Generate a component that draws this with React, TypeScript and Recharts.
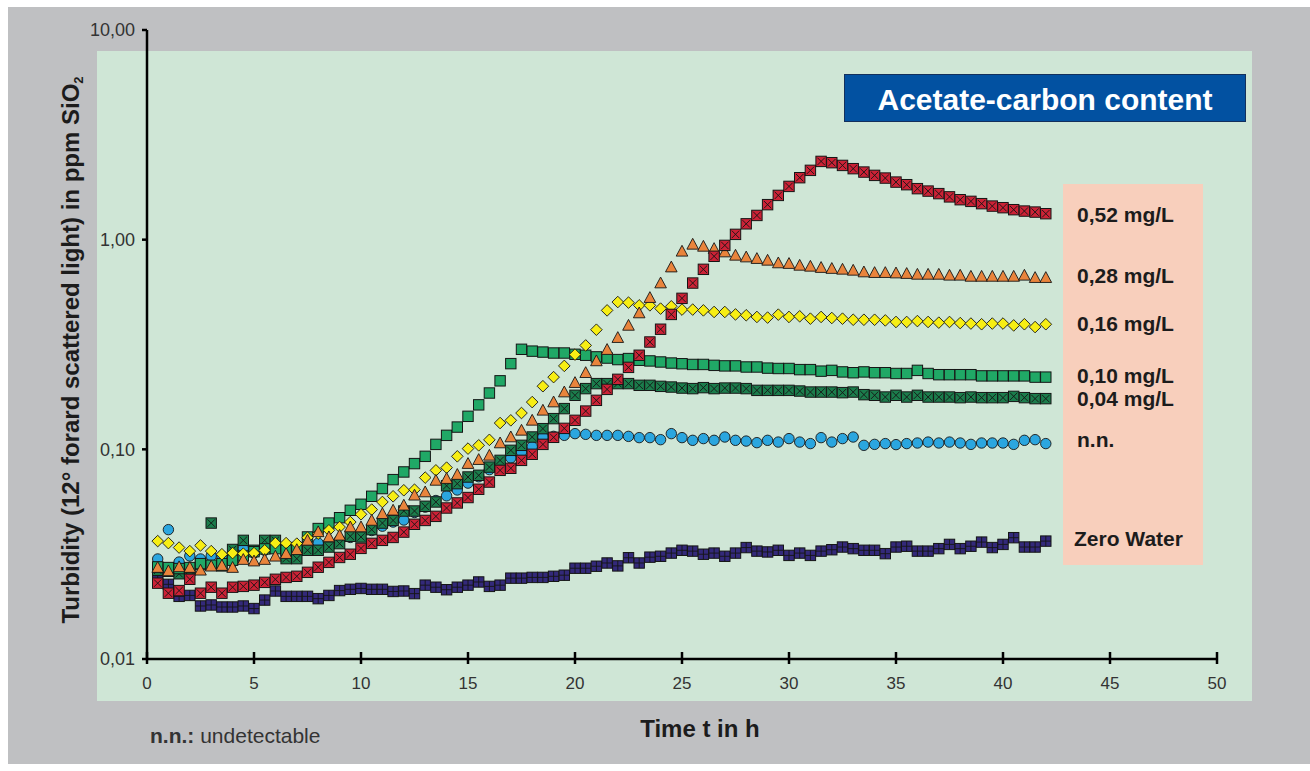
import React from 'react';
import { ScatterChart, Scatter, XAxis, YAxis } from 'recharts';

const FONT = '"Liberation Sans", Arial, Helvetica, sans-serif';

const timeH = [
  0.5, 1, 1.5, 2, 2.5, 3, 3.5, 4, 4.5, 5,
  5.5, 6, 6.5, 7, 7.5, 8, 8.5, 9, 9.5, 10,
  10.5, 11, 11.5, 12, 12.5, 13, 13.5, 14, 14.5, 15,
  15.5, 16, 16.5, 17, 17.5, 18, 18.5, 19, 19.5, 20,
  20.5, 21, 21.5, 22, 22.5, 23, 23.5, 24, 24.5, 25,
  25.5, 26, 26.5, 27, 27.5, 28, 28.5, 29, 29.5, 30,
  30.5, 31, 31.5, 32, 32.5, 33, 33.5, 34, 34.5, 35,
  35.5, 36, 36.5, 37, 37.5, 38, 38.5, 39, 39.5, 40,
  40.5, 41, 41.5, 42,
];

const c052 = [
  0.023, 0.0206, 0.0212, 0.024, 0.0206, 0.022, 0.0206, 0.022, 0.0222, 0.0225,
  0.0232, 0.024, 0.0245, 0.0248, 0.0259, 0.0274, 0.0289, 0.0305, 0.0316, 0.0337,
  0.0356, 0.0368, 0.038, 0.0403, 0.0439, 0.0458, 0.0479, 0.0525, 0.0555, 0.0589,
  0.0645, 0.0698, 0.0794, 0.0812, 0.0886, 0.0947, 0.1056, 0.1141, 0.1259, 0.1375,
  0.1522, 0.1713, 0.1932, 0.2157, 0.246, 0.281, 0.325, 0.374, 0.44, 0.525,
  0.621, 0.722, 0.833, 0.939, 1.06, 1.19, 1.305, 1.469, 1.626, 1.795,
  1.975, 2.141, 2.362, 2.329, 2.26, 2.181, 2.101, 2.026, 1.967, 1.882,
  1.829, 1.751, 1.705, 1.658, 1.6, 1.551, 1.523, 1.485, 1.446, 1.421,
  1.39, 1.369, 1.354, 1.33,
];

const c028 = [
  0.0273, 0.0263, 0.0275, 0.0273, 0.0265, 0.0277, 0.0279, 0.0273, 0.0298, 0.0293,
  0.0298, 0.0309, 0.0318, 0.0332, 0.0368, 0.0404, 0.0382, 0.0389, 0.0426, 0.0426,
  0.0458, 0.0493, 0.0512, 0.0541, 0.0604, 0.0626, 0.0711, 0.0725, 0.0758, 0.0855,
  0.0893, 0.0936, 0.1072, 0.1145, 0.1232, 0.1375, 0.1535, 0.1681, 0.1876, 0.208,
  0.232, 0.264, 0.299, 0.341, 0.39, 0.447, 0.529, 0.621, 0.74, 0.88,
  0.95, 0.929, 0.906, 0.873, 0.842, 0.826, 0.812, 0.797, 0.774, 0.769,
  0.754, 0.746, 0.736, 0.728, 0.722, 0.714, 0.701, 0.696, 0.696, 0.693,
  0.689, 0.683, 0.683, 0.683, 0.676, 0.676, 0.668, 0.668, 0.668, 0.668,
  0.668, 0.676, 0.659, 0.659,
];

const c016 = [
  0.0365, 0.0357, 0.034, 0.0327, 0.0348, 0.0327, 0.0316, 0.032, 0.0318, 0.032,
  0.033, 0.0357, 0.0357, 0.0355, 0.0379, 0.0396, 0.0411, 0.0426, 0.045, 0.049,
  0.0516, 0.0561, 0.0597, 0.0638, 0.0642, 0.0733, 0.0794, 0.0818, 0.0926, 0.1008,
  0.1045, 0.111, 0.1335, 0.1375, 0.149, 0.168, 0.2, 0.221, 0.25, 0.283,
  0.313, 0.372, 0.46, 0.504, 0.501, 0.486, 0.486, 0.469, 0.481, 0.464,
  0.464, 0.46, 0.452, 0.452, 0.44, 0.436, 0.428, 0.425, 0.439, 0.428,
  0.431, 0.42, 0.428, 0.423, 0.42, 0.415, 0.415, 0.415, 0.412, 0.405,
  0.405, 0.409, 0.405, 0.402, 0.405, 0.4, 0.398, 0.395, 0.398, 0.398,
  0.39, 0.395, 0.383, 0.395,
];

const c010 = [
  0.0275, 0.0273, 0.027, 0.0273, 0.0285, 0.028, 0.0285, 0.0296, 0.031, 0.0325,
  0.0335, 0.0336, 0.033, 0.034, 0.0382, 0.0419, 0.0445, 0.0472, 0.0512, 0.0547,
  0.0597, 0.065, 0.0717, 0.078, 0.0855, 0.0926, 0.1056, 0.1166, 0.1277, 0.1437,
  0.163, 0.1856, 0.2122, 0.2563, 0.3, 0.294, 0.291, 0.288, 0.288, 0.284,
  0.281, 0.276, 0.2725, 0.268, 0.271, 0.266, 0.264, 0.261, 0.258, 0.256,
  0.254, 0.254, 0.2515, 0.25, 0.25, 0.247, 0.247, 0.244, 0.243, 0.243,
  0.24, 0.24, 0.236, 0.238, 0.234, 0.232, 0.234, 0.232, 0.232, 0.23,
  0.23, 0.238, 0.23, 0.227, 0.227, 0.227, 0.227, 0.224, 0.224, 0.224,
  0.224, 0.224, 0.221, 0.221,
];

const c004 = [
  0.0265, 0.0262, 0.0255, 0.0265, 0.0282, 0.0445, 0.0278, 0.0333, 0.0368, 0.033,
  0.0368, 0.0368, 0.0301, 0.0301, 0.033, 0.033, 0.0342, 0.0355, 0.0385, 0.0382,
  0.0414, 0.0445, 0.0458, 0.0508, 0.0508, 0.0535, 0.0561, 0.067, 0.0686, 0.0738,
  0.0752, 0.0823, 0.0886, 0.0989, 0.1045, 0.1145, 0.1255, 0.1401, 0.1564, 0.181,
  0.1948, 0.2058, 0.2058, 0.2058, 0.2058, 0.202, 0.202, 0.1997, 0.1982, 0.196,
  0.1948, 0.1969, 0.1948, 0.196, 0.196, 0.1948, 0.1911, 0.1911, 0.1911, 0.1911,
  0.1897, 0.1876, 0.1876, 0.1876, 0.1864, 0.1876, 0.1823, 0.181, 0.1776, 0.181,
  0.1776, 0.181, 0.1776, 0.1776, 0.1776, 0.1764, 0.1776, 0.1764, 0.1764, 0.1764,
  0.1789, 0.1764, 0.1745, 0.1745,
];

const cNN = [
  0.03, 0.0414, 0.029, 0.031, 0.03, 0.031, 0.031, 0.029, 0.0336, 0.032,
  0.033, 0.034, 0.033, 0.033, 0.034, 0.0357, 0.036, 0.037, 0.038, 0.04,
  0.041, 0.043, 0.045, 0.046, 0.05, 0.053, 0.057, 0.06, 0.064, 0.069,
  0.074, 0.08, 0.085, 0.091, 0.097, 0.103, 0.1145, 0.1153, 0.1166, 0.1188,
  0.1179, 0.1166, 0.1166, 0.1166, 0.1153, 0.1137, 0.1137, 0.1112, 0.1188, 0.1137,
  0.1104, 0.1125, 0.1104, 0.1145, 0.1104, 0.1095, 0.1076, 0.1104, 0.1083, 0.1125,
  0.1083, 0.1065, 0.1137, 0.1083, 0.1125, 0.1145, 0.1045, 0.1056, 0.1065, 0.1053,
  0.1065, 0.1072, 0.1083, 0.1072, 0.1083, 0.1072, 0.1056, 0.1072, 0.1072, 0.1072,
  0.1056, 0.1104, 0.1112, 0.1065,
];

const cZero = [
  0.0236, 0.0227, 0.0199, 0.0201, 0.0179, 0.0181, 0.0177, 0.0177, 0.0179, 0.0174,
  0.0191, 0.0211, 0.0199, 0.0199, 0.0199, 0.0194, 0.0201, 0.0212, 0.0215, 0.0217,
  0.0215, 0.0215, 0.021, 0.0211, 0.0205, 0.0225, 0.022, 0.0214, 0.022, 0.0225,
  0.0233, 0.0222, 0.0225, 0.0243, 0.0243, 0.0245, 0.0245, 0.0248, 0.0251, 0.0271,
  0.0271, 0.0277, 0.0287, 0.0278, 0.0304, 0.0287, 0.0306, 0.0309, 0.032, 0.033,
  0.0327, 0.0316, 0.032, 0.0309, 0.032, 0.034, 0.0327, 0.0324, 0.033, 0.0312,
  0.032, 0.0312, 0.0327, 0.0332, 0.0342, 0.0336, 0.033, 0.033, 0.0318, 0.0342,
  0.0345, 0.0327, 0.0327, 0.0336, 0.0352, 0.0336, 0.0345, 0.0361, 0.034, 0.0352,
  0.0379, 0.0342, 0.0342, 0.0365,
];

const xTicks = [0, 5, 10, 15, 20, 25, 30, 35, 40, 45, 50];
const yTicks = [0.01, 0.1, 1, 10];

const seriesLabels = ['0,52 mg/L', '0,28 mg/L', '0,16 mg/L', '0,10 mg/L', '0,04 mg/L', 'n.n.', 'Zero Water'];

const toPoints = (vals: number[]) => timeH.map((t, i) => ({ x: t, y: vals[i] }));

const STROKE = '#151515';

const CrossSquare = (fill: string) => (p: any) => {
  const { cx, cy } = p;
  if (cx == null || cy == null) return <g />;
  const h = 5.2;
  const k = 3.7;
  return (
    <g>
      <rect x={cx - h} y={cy - h} width={2 * h} height={2 * h} fill={fill} stroke={STROKE} strokeWidth={1} />
      <path
        d={`M${cx - k},${cy - k}L${cx + k},${cy + k}M${cx + k},${cy - k}L${cx - k},${cy + k}`}
        stroke={STROKE}
        strokeWidth={0.9}
      />
    </g>
  );
};

const GridSquare = (fill: string) => (p: any) => {
  const { cx, cy } = p;
  if (cx == null || cy == null) return <g />;
  const h = 5.2;
  return (
    <g>
      <rect x={cx - h} y={cy - h} width={2 * h} height={2 * h} fill={fill} stroke={STROKE} strokeWidth={1} />
      <path d={`M${cx},${cy - h}L${cx},${cy + h}M${cx - h},${cy}L${cx + h},${cy}`} stroke={STROKE} strokeWidth={0.9} />
    </g>
  );
};

const PlainSquare = (fill: string) => (p: any) => {
  const { cx, cy } = p;
  if (cx == null || cy == null) return <g />;
  const h = 5.2;
  return <rect x={cx - h} y={cy - h} width={2 * h} height={2 * h} fill={fill} stroke={STROKE} strokeWidth={1} />;
};

const Triangle = (fill: string) => (p: any) => {
  const { cx, cy } = p;
  if (cx == null || cy == null) return <g />;
  return (
    <polygon
      points={`${cx},${cy - 6} ${cx + 5.8},${cy + 4.8} ${cx - 5.8},${cy + 4.8}`}
      fill={fill}
      stroke={STROKE}
      strokeWidth={0.9}
    />
  );
};

const Diamond = (fill: string) => (p: any) => {
  const { cx, cy } = p;
  if (cx == null || cy == null) return <g />;
  return (
    <polygon
      points={`${cx},${cy - 5.8} ${cx + 5.8},${cy} ${cx},${cy + 5.8} ${cx - 5.8},${cy}`}
      fill={fill}
      stroke={STROKE}
      strokeWidth={0.9}
    />
  );
};

const Circle = (fill: string) => (p: any) => {
  const { cx, cy } = p;
  if (cx == null || cy == null) return <g />;
  return <circle cx={cx} cy={cy} r={5.2} fill={fill} stroke={STROKE} strokeWidth={0.9} />;
};

const XTick = (props: any) => {
  const { x, y, payload } = props;
  return (
    <g>
      <line x1={x} x2={x} y1={y - 7} y2={y + 5} stroke="#000" strokeWidth={2.5} />
      <text x={x} y={y + 30} textAnchor="middle" fontSize={17} fill="#333" fontFamily={FONT}>
        {payload.value}
      </text>
    </g>
  );
};

const fmtY = (v: number) => v.toFixed(2).replace('.', ',');

const labelY = [222, 283, 331, 383, 406, 447, 546];

export default function App() {
  return (
    <div style={{ position: 'relative', width: 1310, height: 771, background: '#fff', overflow: 'hidden' }}>
      <style>{'html,body{margin:0;padding:0;overflow:hidden;background:#fff}'}</style>
      <div style={{ position: 'absolute', left: 8, top: 7, width: 1302, height: 757, background: '#bfc0c2' }} />
      <div style={{ position: 'absolute', left: 97, top: 51, width: 1155, height: 650, background: '#cfe6d6' }} />
      <div style={{ position: 'absolute', left: 1063, top: 184, width: 140, height: 381, background: '#f8cfbc' }} />
      <div
        style={{
          position: 'absolute',
          left: 844,
          top: 74,
          width: 400,
          height: 46,
          background: '#0251a1',
          border: '1px solid #13305c',
        }}
      />
      <div style={{ position: 'absolute', left: 0, top: 0 }}>
        <ScatterChart width={1310} height={771} margin={{ top: 30, right: 93, bottom: 72, left: 87 }}>
          <XAxis
            type="number"
            dataKey="x"
            domain={[0, 50]}
            ticks={xTicks}
            interval={0}
            height={40}
            axisLine={{ stroke: '#000', strokeWidth: 2.5 }}
            tickLine={false}
            tickSize={0}
            tickMargin={0}
            tick={<XTick />}
          />
          <YAxis
            type="number"
            dataKey="y"
            scale="log"
            domain={[0.01, 10]}
            ticks={yTicks}
            interval={0}
            width={60}
            allowDataOverflow
            axisLine={{ stroke: '#000', strokeWidth: 2.5 }}
            tickLine={{ stroke: '#000', strokeWidth: 2.5 }}
            tickSize={5}
            tickMargin={7}
            tickFormatter={fmtY}
            tick={{ fill: '#333', fontSize: 18, fontFamily: FONT }}
          />
          <Scatter data={toPoints(cZero)} shape={GridSquare('#33297a')} isAnimationActive={false} />
          <Scatter data={toPoints(cNN)} shape={Circle('#2ba6df')} isAnimationActive={false} />
          <Scatter data={toPoints(c004)} shape={CrossSquare('#1b7d4c')} isAnimationActive={false} />
          <Scatter data={toPoints(c010)} shape={PlainSquare('#20a866')} isAnimationActive={false} />
          <Scatter data={toPoints(c016)} shape={Diamond('#f7ee14')} isAnimationActive={false} />
          <Scatter data={toPoints(c028)} shape={Triangle('#e9843c')} isAnimationActive={false} />
          <Scatter data={toPoints(c052)} shape={CrossSquare('#cc2236')} isAnimationActive={false} />
        </ScatterChart>
      </div>
      <svg
        width={1310}
        height={771}
        style={{ position: 'absolute', left: 0, top: 0, pointerEvents: 'none' }}
        fontFamily={FONT}
      >
        <text x={1045} y={110} textAnchor="middle" fill="#fff" fontSize={30} fontWeight="bold">
          Acetate-carbon content
        </text>
        {seriesLabels.map((s, i) => (
          <text key={s} x={i === 6 ? 1074 : 1077} y={labelY[i]} fill="#1c1c1c" fontSize={21} fontWeight="bold">
            {s}
          </text>
        ))}
        <text transform="translate(79,350) rotate(-90)" textAnchor="middle" fill="#1c1c1c" fontSize={24} fontWeight="bold">
          Turbidity (12° forard scattered light) in ppm SiO
          <tspan fontSize={13} dy={4}>
            2
          </tspan>
        </text>
        <text x={700} y={737} textAnchor="middle" fill="#1c1c1c" fontSize={24} fontWeight="bold">
          Time t in h
        </text>
        <text x={150} y={743} fill="#333" fontSize={21}>
          <tspan fontWeight="bold">n.n.:</tspan> undetectable
        </text>
      </svg>
    </div>
  );
}
